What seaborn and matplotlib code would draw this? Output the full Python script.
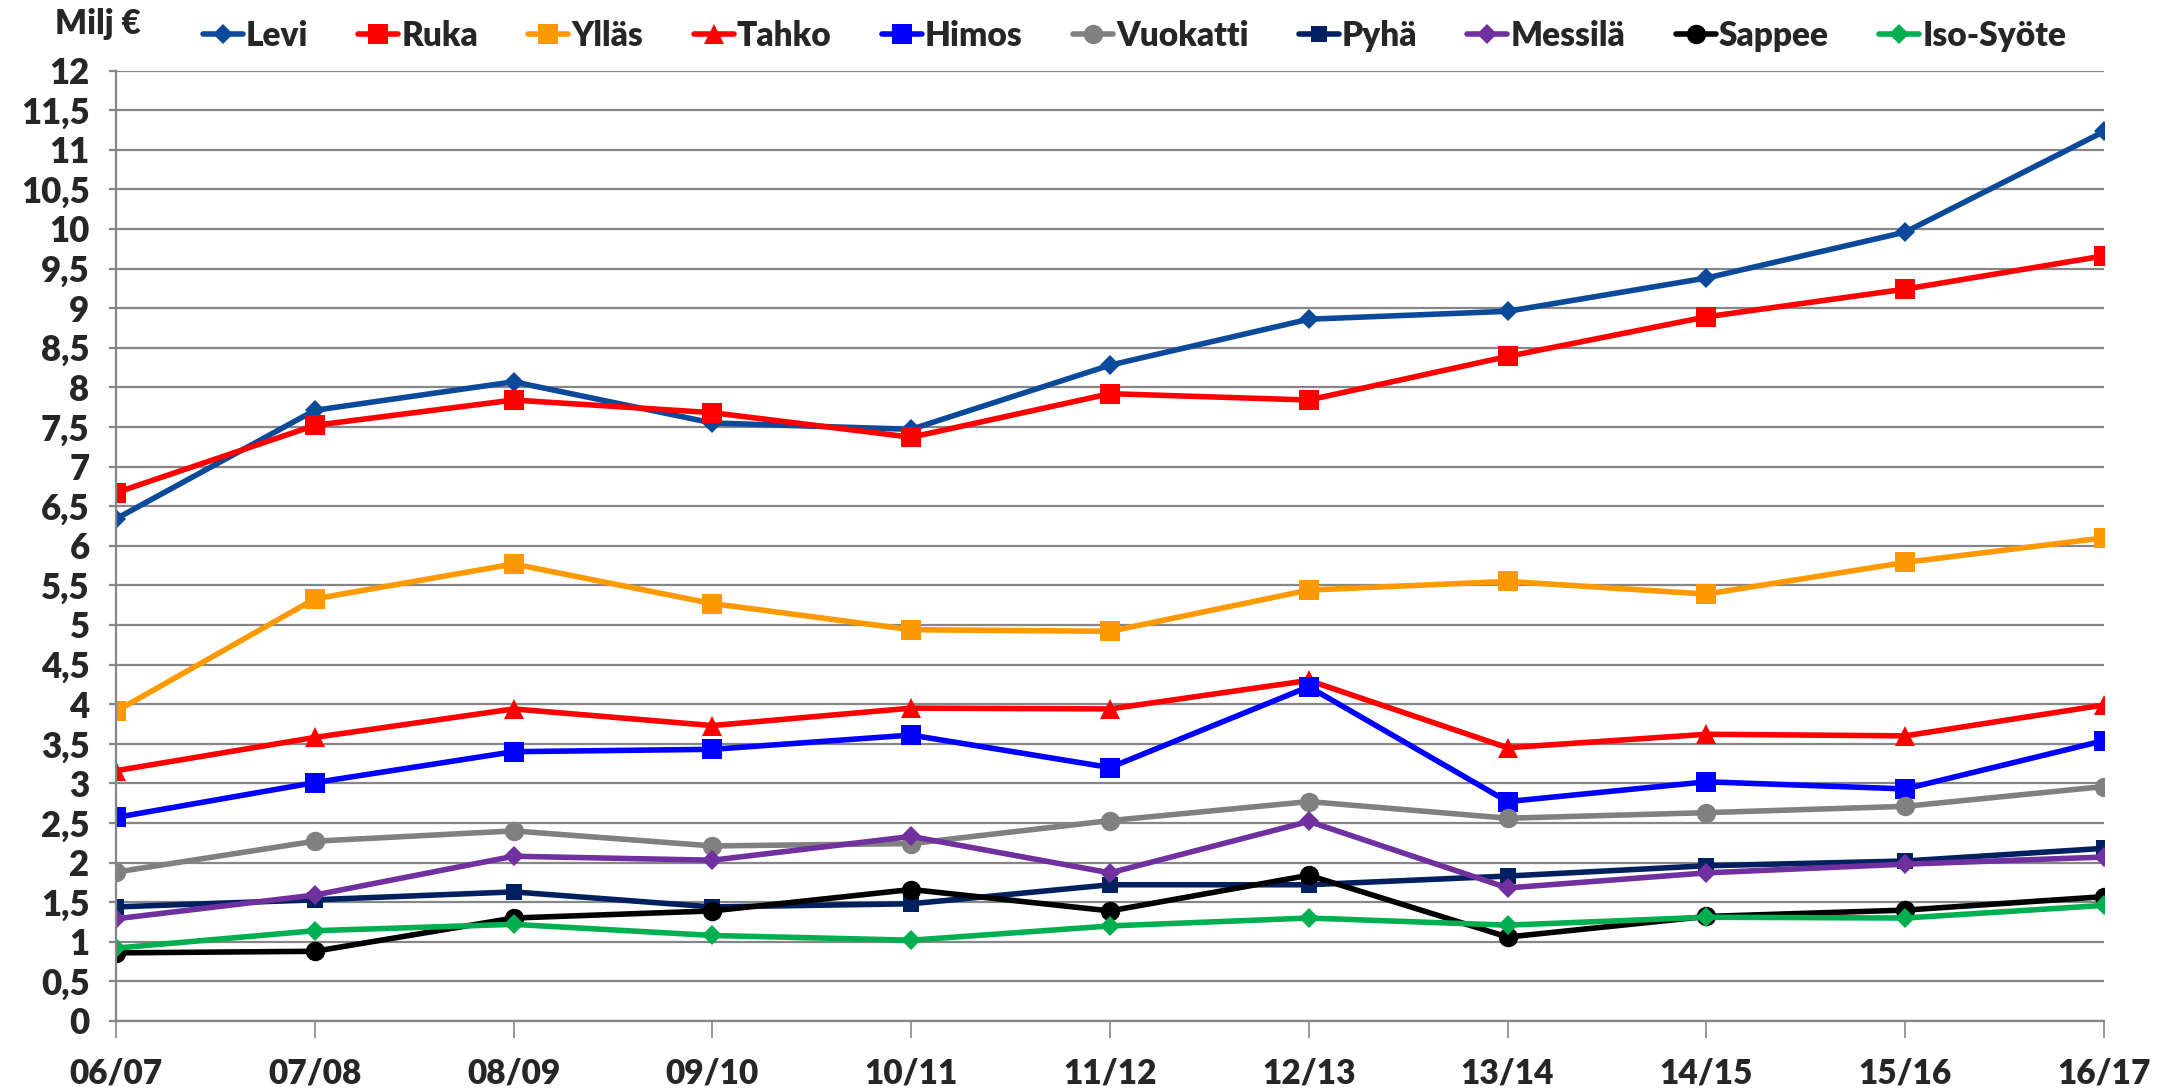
import matplotlib
matplotlib.use("Agg")
import matplotlib.pyplot as plt
import numpy as np
import pandas as pd
import seaborn as sns
from matplotlib.ticker import FuncFormatter, MultipleLocator


SEASONS = ["06/07", "07/08", "08/09", "09/10", "10/11", "11/12",
           "12/13", "13/14", "14/15", "15/16", "16/17"]

levi = [6.34, 7.71, 8.07, 7.55, 7.47, 8.28, 8.86, 8.96, 9.38, 9.96, 11.23]
ruka = [6.67, 7.52, 7.84, 7.68, 7.37, 7.92, 7.84, 8.39, 8.89, 9.24, 9.66]
yllas = [3.91, 5.33, 5.77, 5.27, 4.94, 4.92, 5.44, 5.55, 5.39, 5.79, 6.10]
tahko = [3.16, 3.58, 3.94, 3.73, 3.95, 3.94, 4.30, 3.45, 3.62, 3.60, 3.99]
himos = [2.57, 3.01, 3.40, 3.43, 3.61, 3.20, 4.22, 2.77, 3.02, 2.93, 3.54]
vuokatti = [1.88, 2.27, 2.40, 2.21, 2.24, 2.53, 2.77, 2.56, 2.63, 2.71, 2.96]
pyha = [1.44, 1.53, 1.63, 1.44, 1.48, 1.72, 1.72, 1.83, 1.96, 2.02, 2.18]
messila = [1.29, 1.59, 2.08, 2.03, 2.33, 1.87, 2.52, 1.68, 1.87, 1.98, 2.07]
sappee = [0.86, 0.88, 1.30, 1.39, 1.66, 1.39, 1.84, 1.06, 1.32, 1.40, 1.57]
iso_syote = [0.92, 1.14, 1.22, 1.08, 1.02, 1.20, 1.30, 1.21, 1.31, 1.30, 1.46]

SERIES = [
    ("Levi", levi, "#0B4A9B", "D", 10),
    ("Ruka", ruka, "#FF0000", "s", 15),
    ("Ylläs", yllas, "#FF9900", "s", 15),
    ("Tahko", tahko, "#FF0000", "^", 15),
    ("Himos", himos, "#0000FF", "s", 15),
    ("Vuokatti", vuokatti, "#808080", "o", 14),
    ("Pyhä", pyha, "#002060", "s", 12),
    ("Messilä", messila, "#7030A0", "D", 10),
    ("Sappee", sappee, "#000000", "o", 14),
    ("Iso-Syöte", iso_syote, "#00B050", "D", 10),
]

GRID = "#868686"


def decimal_comma(v, pos):
    if abs(v - round(v)) < 1e-9:
        return "%d" % round(v)
    return ("%.1f" % v).replace(".", ",")


def main():
    sns.set_theme(style="white")
    plt.rcParams["font.family"] = ["Lato", "DejaVu Sans"]
    plt.rcParams["font.weight"] = "heavy"

    fig = plt.figure(figsize=(21.69, 10.88), dpi=100)
    ax = fig.add_axes([116 / 2169, 1 - 1021 / 1088,
                       (2104 - 116) / 2169, (1021 - 70.5) / 1088])

    for name, values, color, marker, msize in SERIES:
        df = pd.DataFrame({"season": SEASONS, "value": values})
        sns.lineplot(data=df, x="season", y="value", ax=ax, color=color,
                     marker=marker, markersize=msize, markeredgewidth=0,
                     linewidth=4, label=name, sort=False)

    ax.set_xlim(0, len(SEASONS) - 1)
    ax.set_ylim(0, 12)
    ax.yaxis.set_major_locator(MultipleLocator(0.5))
    ax.yaxis.set_major_formatter(FuncFormatter(decimal_comma))
    ax.set_xlabel("")
    ax.set_ylabel("")

    ax.grid(axis="y", color=GRID, linewidth=1.6)
    ax.set_axisbelow(True)
    for side in ["top", "right"]:
        ax.spines[side].set_visible(False)
    for side in ["left", "bottom"]:
        ax.spines[side].set_color(GRID)
        ax.spines[side].set_linewidth(1.6)

    ax.tick_params(axis="y", length=5, width=1.6, color=GRID, left=True,
                   labelsize=25, pad=14)
    ax.tick_params(axis="x", length=12, width=1.2, color=GRID, bottom=True,
                   labelsize=24, pad=14)
    for lab in ax.get_xticklabels() + ax.get_yticklabels():
        lab.set_fontweight("heavy")

    handles, labels = ax.get_legend_handles_labels()
    ax.get_legend().remove()
    fig.legend(handles, labels, loc="center", bbox_to_anchor=(0.523, 0.967),
               ncol=10, frameon=False, handlelength=1.2, handletextpad=0.1,
               columnspacing=1.5, prop={"size": 24, "weight": "heavy"})

    fig.text(55 / 2169, 1 - 24 / 1088, "Milj €", ha="left", va="center",
             fontsize=24, fontweight="heavy")

    fig.savefig("out.png", dpi=100)
    plt.close(fig)


if __name__ == "__main__":
    main()
